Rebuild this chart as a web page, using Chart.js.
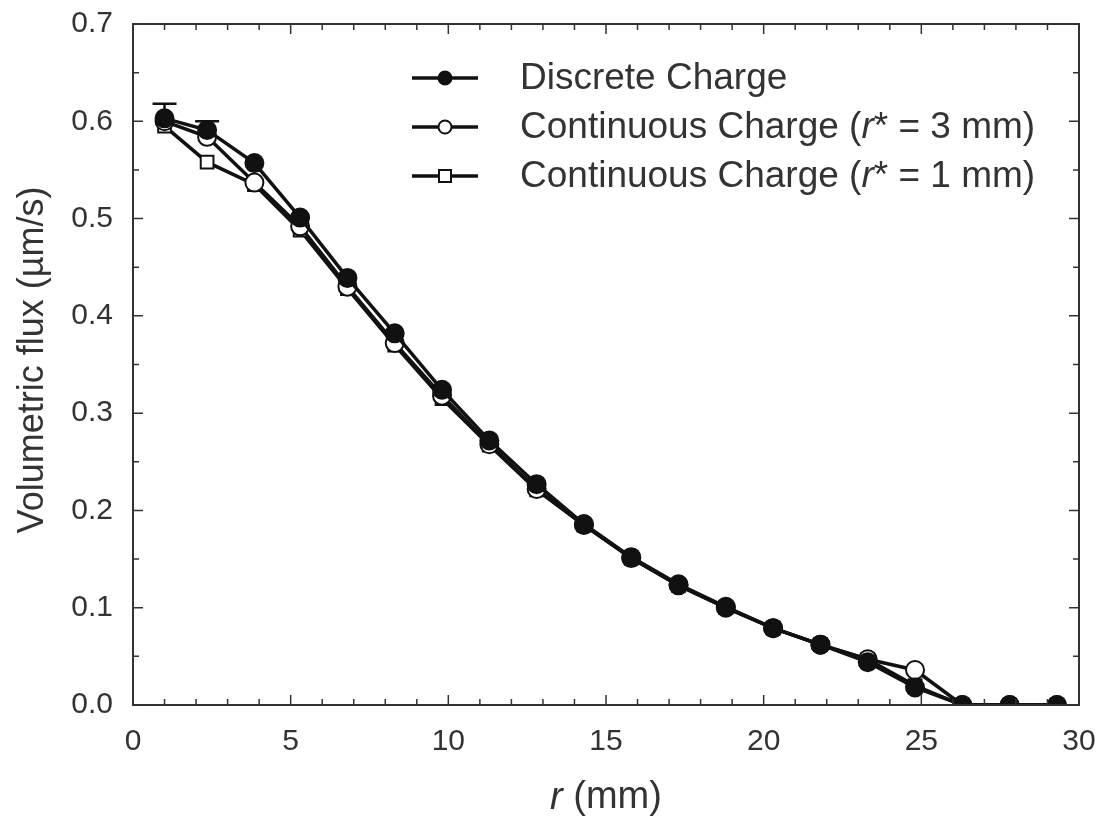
<!DOCTYPE html>
<html lang="en">
<head>
    <meta charset="UTF-8">
    <title>Volumetric flux vs r</title>
    <style>
        body {
            margin: 0;
            padding: 0;
            background-color: #fff;
        }
        #fluxChart {
            display: block;
        }
    </style>
</head>
<body>
    <canvas id="fluxChart" width="1102" height="825"></canvas>
    <script src="https://cdn.jsdelivr.net/npm/chart.js"></script>
    <script>
        // radial positions (mm)
        const rValues = [1.0, 2.35, 3.85, 5.3, 6.8, 8.3, 9.8, 11.3, 12.8, 14.3, 15.8, 17.3, 18.8, 20.3, 21.8, 23.3, 24.8, 26.3, 27.8, 29.3];

        const discreteFlux = [0.603, 0.591, 0.557, 0.501, 0.439, 0.382, 0.324, 0.272, 0.227, 0.186, 0.152, 0.124, 0.101, 0.079, 0.062, 0.044, 0.018, 0.0, 0.0, 0.0];
        const cont3Flux = [0.600, 0.584, 0.537, 0.492, 0.430, 0.372, 0.318, 0.268, 0.222, 0.185, 0.151, 0.123, 0.100, 0.079, 0.062, 0.047, 0.036, 0.0, 0.0, 0.0];
        const cont1Flux = [0.595, 0.558, 0.535, 0.488, 0.428, 0.370, 0.315, 0.267, 0.221, 0.185, 0.151, 0.123, 0.100, 0.079, 0.062, 0.047, 0.020, 0.0, 0.0, 0.0];

        // upper error bar on the discrete series (null = none shown)
        const discreteErrUpper = [0.618, 0.600, null, null, null, null, null, null, null, null, null, null, null, null, null, null, null, null, null, null];

        const xTicks = [0, 5, 10, 15, 20, 25, 30];
        const yTicks = [0.0, 0.1, 0.2, 0.3, 0.4, 0.5, 0.6, 0.7];

        const seriesLabels = [
            ['Discrete Charge'],
            ['Continuous Charge (', 'r', '* = 3 mm)'],
            ['Continuous Charge (', 'r', '* = 1 mm)']
        ];

        const fontFamily = '"Liberation Sans", Arial, sans-serif';
        const textColor = '#333';

        function toPoints(ys) {
            return rValues.map((x, i) => ({ x: x, y: ys[i] }));
        }

        // frame, inward ticks, error bars, axis titles and legend
        const framePlugin = {
            id: 'frame',
            beforeDatasetsDraw(chart) {
                const ctx = chart.ctx;
                const xs = chart.scales.x;
                const ys = chart.scales.y;
                ctx.save();
                ctx.strokeStyle = '#111';
                ctx.lineWidth = 2.5;
                discreteErrUpper.forEach((up, i) => {
                    if (up === null) return;
                    const px = xs.getPixelForValue(rValues[i]);
                    const py0 = ys.getPixelForValue(discreteFlux[i]);
                    const py1 = ys.getPixelForValue(up);
                    ctx.beginPath();
                    ctx.moveTo(px, py0);
                    ctx.lineTo(px, py1);
                    ctx.moveTo(px - 12, py1);
                    ctx.lineTo(px + 12, py1);
                    ctx.stroke();
                });
                ctx.restore();
            },
            afterDraw(chart) {
                const ctx = chart.ctx;
                const a = chart.chartArea;
                const xs = chart.scales.x;
                const ys = chart.scales.y;
                ctx.save();
                ctx.strokeStyle = '#333';
                ctx.lineWidth = 2;
                ctx.strokeRect(a.left, a.top, a.right - a.left, a.bottom - a.top);

                ctx.lineWidth = 1.5;
                ctx.beginPath();
                for (let v = 0; v <= 30; v += 1) {
                    const px = xs.getPixelForValue(v);
                    const len = v % 5 === 0 ? 10 : 6;
                    ctx.moveTo(px, a.bottom);
                    ctx.lineTo(px, a.bottom - len);
                    ctx.moveTo(px, a.top);
                    ctx.lineTo(px, a.top + len);
                }
                for (let k = 0; k <= 14; k++) {
                    const py = ys.getPixelForValue(k * 0.05);
                    const len = k % 2 === 0 ? 10 : 6;
                    ctx.moveTo(a.left, py);
                    ctx.lineTo(a.left + len, py);
                    ctx.moveTo(a.right, py);
                    ctx.lineTo(a.right - len, py);
                }
                ctx.stroke();

                // axis titles
                ctx.fillStyle = textColor;
                ctx.textBaseline = 'middle';
                ctx.font = 'italic 38px ' + fontFamily;
                const rW = ctx.measureText('r').width;
                ctx.font = '38px ' + fontFamily;
                const restW = ctx.measureText(' (mm)').width;
                const cx = (a.left + a.right) / 2;
                const sx = cx - (rW + restW) / 2;
                ctx.textAlign = 'left';
                ctx.font = 'italic 38px ' + fontFamily;
                ctx.fillText('r', sx, 798);
                ctx.font = '38px ' + fontFamily;
                ctx.fillText(' (mm)', sx + rW, 798);

                ctx.save();
                ctx.translate(33, 360);
                ctx.rotate(-Math.PI / 2);
                ctx.textAlign = 'center';
                ctx.font = '36px ' + fontFamily;
                ctx.fillText('Volumetric flux (\u00b5m/s)', 0, 0);
                ctx.restore();

                // legend
                const rows = [78, 127, 176];
                chart.data.datasets.forEach((ds, i) => {
                    const y = rows[i];
                    ctx.strokeStyle = '#111';
                    ctx.lineWidth = 3.5;
                    ctx.beginPath();
                    ctx.moveTo(412, y);
                    ctx.lineTo(478, y);
                    ctx.stroke();
                    ctx.lineWidth = 2;
                    ctx.fillStyle = ds.pointBackgroundColor;
                    ctx.beginPath();
                    if (ds.pointStyle === 'rect') {
                        ctx.rect(445 - 6, y - 6, 12, 12);
                    } else {
                        ctx.arc(445, y, 6.5, 0, Math.PI * 2);
                    }
                    ctx.fill();
                    ctx.stroke();

                    ctx.fillStyle = textColor;
                    ctx.textAlign = 'left';
                    let tx = 520;
                    seriesLabels[i].forEach((part, j) => {
                        ctx.font = (j === 1 ? 'italic ' : '') + '37px ' + fontFamily;
                        ctx.fillText(part, tx, y + 1);
                        tx += ctx.measureText(part).width;
                    });
                });
                ctx.restore();
            }
        };

        const commonLine = {
            borderColor: '#111',
            borderWidth: 3.5,
            pointBorderColor: '#111',
            pointBorderWidth: 2,
            tension: 0,
            fill: false
        };

        new Chart(document.getElementById('fluxChart').getContext('2d'), {
            type: 'line',
            data: {
                datasets: [
                    Object.assign({}, commonLine, {
                        label: 'Discrete Charge',
                        data: toPoints(discreteFlux),
                        pointStyle: 'circle',
                        pointRadius: 9,
                        pointBackgroundColor: '#111'
                    }),
                    Object.assign({}, commonLine, {
                        label: 'Continuous Charge (r* = 3 mm)',
                        data: toPoints(cont3Flux),
                        pointStyle: 'circle',
                        pointRadius: 9,
                        pointBackgroundColor: '#fff'
                    }),
                    Object.assign({}, commonLine, {
                        label: 'Continuous Charge (r* = 1 mm)',
                        data: toPoints(cont1Flux),
                        pointStyle: 'rect',
                        pointRadius: 9,
                        pointBackgroundColor: '#fff'
                    })
                ]
            },
            options: {
                responsive: false,
                animation: false,
                layout: {
                    padding: { top: 24, right: 23, left: 0, bottom: 0 }
                },
                plugins: {
                    legend: { display: false },
                    tooltip: { enabled: false }
                },
                scales: {
                    x: {
                        type: 'linear',
                        min: 0,
                        max: 30,
                        grid: { display: false },
                        border: { display: false },
                        afterBuildTicks: (scale) => {
                            scale.ticks = xTicks.map(v => ({ value: v }));
                        },
                        afterFit: (scale) => {
                            scale.height = 120;
                            scale.paddingLeft = 0;
                            scale.paddingRight = 0;
                        },
                        ticks: {
                            padding: 11,
                            color: textColor,
                            font: { size: 30, family: fontFamily },
                            callback: (v) => String(v)
                        }
                    },
                    y: {
                        type: 'linear',
                        min: 0,
                        max: 0.7,
                        grid: { display: false },
                        border: { display: false },
                        afterBuildTicks: (scale) => {
                            scale.ticks = yTicks.map(v => ({ value: v }));
                        },
                        afterFit: (scale) => {
                            scale.width = 133;
                            scale.paddingTop = 0;
                            scale.paddingBottom = 0;
                        },
                        ticks: {
                            padding: 12,
                            color: textColor,
                            font: { size: 30, family: fontFamily },
                            callback: (v) => Number(v).toFixed(1)
                        }
                    }
                }
            },
            plugins: [framePlugin]
        });
    </script>
</body>
</html>
